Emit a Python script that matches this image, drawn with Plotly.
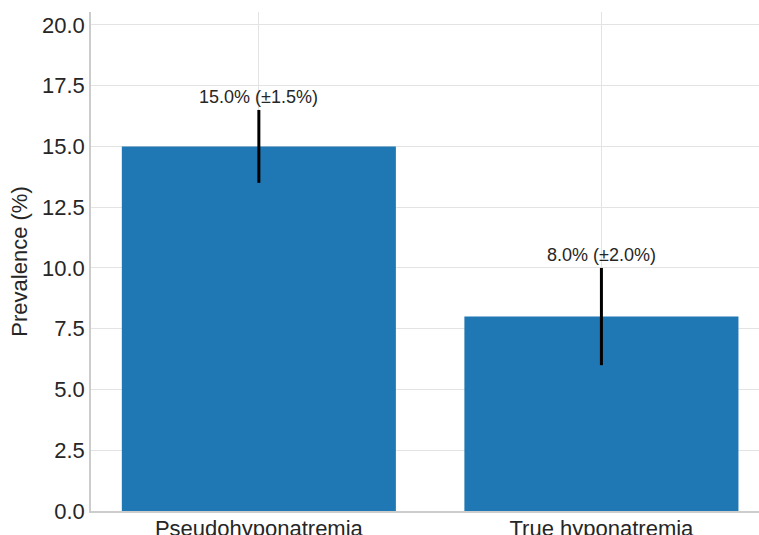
import plotly.graph_objects as go

categories = ["Pseudohyponatremia", "True hyponatremia"]
prevalence = [15.0, 8.0]
errors = [1.5, 2.0]
labels = [f"{v:.1f}% (±{e:.1f}%)" for v, e in zip(prevalence, errors)]
y_ticks = [0.0, 2.5, 5.0, 7.5, 10.0, 12.5, 15.0, 17.5, 20.0]

FONT = "Liberation Sans, Arial, sans-serif"
TXT = "#262626"

fig = go.Figure()
fig.add_trace(go.Bar(
    x=[0, 1],
    y=prevalence,
    width=0.8,
    marker=dict(color="#1f77b4", line=dict(width=0)),
    error_y=dict(type="data", array=errors, visible=True, color="black",
                 thickness=3, width=0),
    showlegend=False,
))

for i, (v, e, t) in enumerate(zip(prevalence, errors, labels)):
    fig.add_annotation(x=i, y=v + e, text=t, showarrow=False,
                       yanchor="middle", yshift=13,
                       font=dict(family=FONT, size=18, color=TXT))

fig.update_layout(
    width=759, height=535,
    margin=dict(l=91, r=0, t=12, b=24, autoexpand=False),
    plot_bgcolor="white", paper_bgcolor="white",
    font=dict(family=FONT, size=22, color=TXT),
    bargap=0.2,
)
fig.update_xaxes(
    range=[-0.49, 1.46],
    tickvals=[0, 1], ticktext=categories,
    showgrid=True, gridcolor="#e3e3e3", gridwidth=1,
    showline=True, linecolor="#cccccc", linewidth=1.5,
    ticks="", zeroline=False, automargin=False,
    ticklabelstandoff=-3,
    tickfont=dict(size=22, color=TXT),
)
fig.update_yaxes(
    range=[0, 20.53],
    tickvals=y_ticks, ticktext=[f"{t:.1f}" for t in y_ticks],
    showgrid=True, gridcolor="#e3e3e3", gridwidth=1,
    showline=True, linecolor="#cccccc", linewidth=1.5,
    ticks="", zeroline=False, automargin=False,
    tickfont=dict(size=22, color=TXT),
    title=dict(text="Prevalence (%)", font=dict(size=22, color=TXT), standoff=8),
)

fig.write_html(
    "out.html",
    config={"displayModeBar": False},
    post_script="document.body.style.margin='0';document.body.style.overflow='hidden';",
)
